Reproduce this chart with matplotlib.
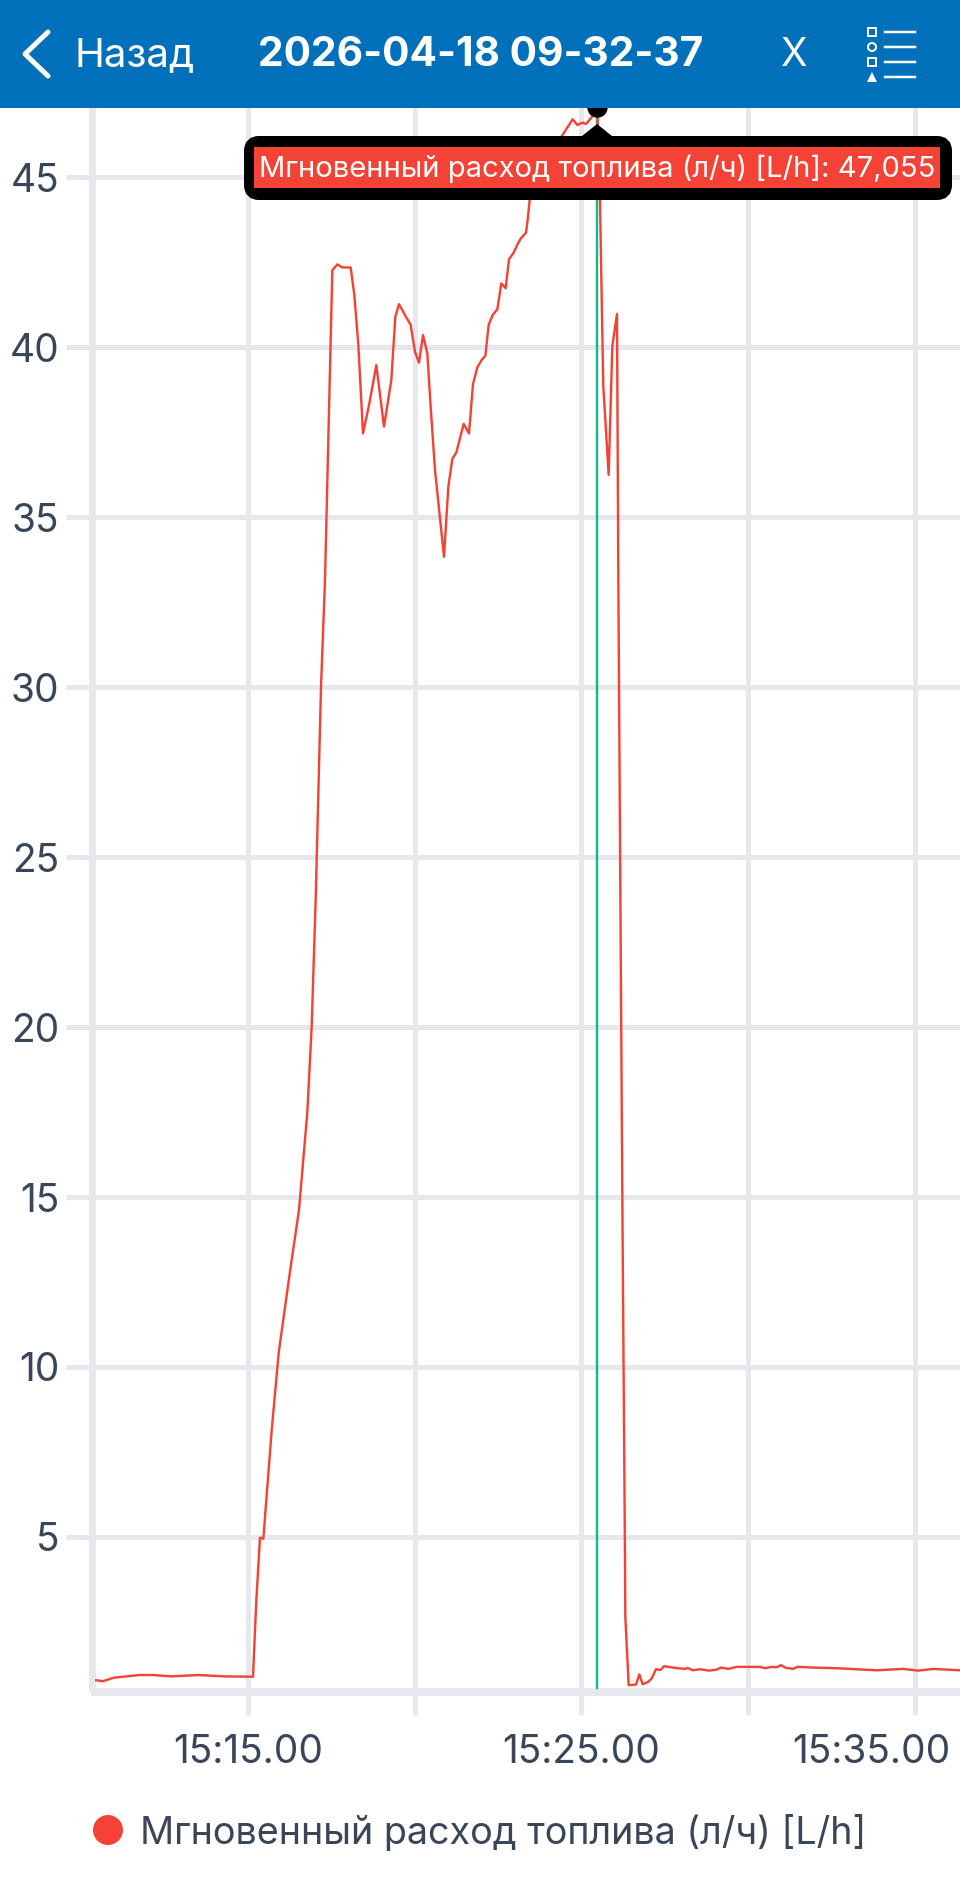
import matplotlib
matplotlib.use('Agg')
import matplotlib.pyplot as plt
from matplotlib.patches import Circle, FancyBboxPatch, Polygon, Rectangle

# minutes after 15:00 and fuel rate in L/h
minutes = [10.41, 10.65, 10.97, 11.73, 12.17, 12.69, 13.50, 14.31, 15.15, 15.25, 15.36, 15.46,
           15.71, 15.92, 16.26, 16.53, 16.78, 16.91, 17.03, 17.19, 17.31, 17.53, 17.68, 17.83,
           18.08, 18.19, 18.31, 18.45, 18.64, 18.85, 19.08, 19.30, 19.42, 19.53, 19.71, 19.88,
           20.01, 20.13, 20.25, 20.38, 20.48, 20.61, 20.88, 21.01, 21.13, 21.25, 21.47, 21.63,
           21.75, 21.88, 22.01, 22.12, 22.22, 22.34, 22.48, 22.60, 22.73, 22.83, 22.96, 23.11,
           23.19, 23.34, 23.39, 23.45, 23.70, 24.06, 24.44, 24.74, 24.88, 25.04, 25.14, 25.34,
           25.48, 25.56, 25.64, 25.66, 25.82, 25.93, 26.07, 26.11, 26.23, 26.31, 26.32, 26.42,
           26.64, 26.74, 26.84, 27.01, 27.11, 27.24, 27.38, 27.48, 27.81, 28.11, 28.19, 28.34,
           28.56, 28.83, 29.06, 29.19, 29.41, 29.66, 30.36, 30.51, 30.71, 30.86, 30.99, 31.14,
           31.36, 31.48, 31.96, 32.66, 33.86, 34.66, 35.11, 35.56, 36.36]
rate = [0.79, 0.76, 0.86, 0.94, 0.94, 0.90, 0.94, 0.90, 0.89, 3.15, 4.98, 4.95,
        8.13, 10.41, 12.81, 14.62, 17.50, 20.01, 23.74, 30.00, 33.15, 42.26, 42.43, 42.34,
        42.34, 41.53, 40.06, 37.46, 38.34, 39.47, 37.66, 39.03, 40.89, 41.26, 40.94, 40.65,
        39.86, 39.54, 40.35, 39.81, 38.24, 36.38, 33.83, 35.89, 36.71, 36.90, 37.74, 37.46,
        38.91, 39.40, 39.62, 39.74, 40.65, 40.94, 41.11, 41.87, 41.73, 42.58, 42.76, 43.07,
        43.20, 43.36, 43.74, 44.32, 45.06, 45.79, 46.24, 46.70, 46.53, 46.60, 46.56, 46.79,
        47.055, 44.32, 39.82, 38.82, 36.24, 40.03, 40.97, 33.15, 14.91, 4.32, 2.65, 0.64,
        0.66, 0.96, 0.67, 0.74, 0.84, 1.11, 1.09, 1.20, 1.15, 1.12, 1.15, 1.08,
        1.11, 1.07, 1.10, 1.16, 1.12, 1.18, 1.18, 1.14, 1.18, 1.17, 1.23, 1.15,
        1.12, 1.18, 1.16, 1.14, 1.08, 1.12, 1.07, 1.12, 1.08]

x_ticks = [15, 20, 25, 30, 35]
x_labels = ['15:15.00', '', '15:25.00', '', '']
last_x_label = '15:35.00'
y_ticks = [5, 10, 15, 20, 25, 30, 35, 40, 45]

cursor_minute = 25.48
cursor_value = 47.055
series_name = 'Мгновенный расход топлива (л/ч) [L/h]'
tooltip_text = series_name + ': 47,055'
title_text = '2026-04-18 09-32-37'

W, H = 960, 1879
BLUE = '#0070BA'
RED = '#F44336'
GREEN = '#12B886'
GRID = '#E6E8ED'
TEXT = '#39465A'
px = 0.72  # one pixel in points at dpi 100

plt.rcParams['font.family'] = ['Inter', 'DejaVu Sans']

fig = plt.figure(figsize=(W / 100, H / 100), dpi=100, facecolor='white')

# chart area, pixel box 95..960 by 108..1692
ax = fig.add_axes([95 / W, 1 - 1692 / H, (960 - 95) / W, (1692 - 108) / H])
ax.set_xlim(10.41, 36.36)
ax.set_ylim(0.441, 47.03)

ax.grid(True, color=GRID, linewidth=5 * px)
ax.set_axisbelow(True)
ax.set_xticks(x_ticks)
ax.set_xticklabels(x_labels)
ax.set_yticks(y_ticks)
ax.tick_params(axis='x', length=23 * px, width=5 * px, color=GRID, labelcolor=TEXT,
               labelsize=28, pad=19 * px)
ax.tick_params(axis='y', length=26 * px, width=5 * px, color=GRID, labelcolor=TEXT,
               labelsize=28, pad=6 * px)

for side in ['top', 'right']:
    ax.spines[side].set_visible(False)
ax.spines['bottom'].set_color(GRID)
ax.spines['bottom'].set_linewidth(8 * px)
ax.spines['left'].set_color(GRID)
ax.spines['left'].set_linewidth(7 * px)
ax.spines['left'].set_position(('outward', 3.5 * px))
ax.spines['left'].set_bounds(0.56, 47.03)

ax.annotate(last_x_label, xy=(35, 0), xycoords=('data', 'axes fraction'),
            xytext=(-43 * px, -(23 + 19) * px), textcoords='offset points',
            ha='center', va='top', fontsize=28, color=TEXT, annotation_clip=False)

ax.axvline(cursor_minute, color=GREEN, linewidth=2.4 * px, ymin=0.0025, zorder=3)
ax.plot(minutes, rate, color=RED, linewidth=2.4 * px, zorder=4)
ax.plot([cursor_minute], [cursor_value], 'o', color='black', markersize=19 * px,
        clip_on=False, zorder=5)

# header, tooltip and legend in screen pixels on top of the chart
top = fig.add_axes([0, 0, 1, 1], zorder=5)
top.set_xlim(0, W)
top.set_ylim(H, 0)
top.axis('off')
top.patch.set_alpha(0)

top.add_patch(Rectangle((0, 0), W, 108, color=BLUE, linewidth=0))
top.plot([48, 25, 48], [32, 54, 76], color='white', linewidth=5 * px,
         solid_capstyle='round', solid_joinstyle='round')
top.text(75, 56, 'Назад', color='white', fontsize=29, va='center', ha='left')
top.text(481, 55, title_text, color='white', fontsize=29.3, fontweight='bold',
         va='center', ha='center')
top.text(794, 55, 'X', color='white', fontsize=28, va='center', ha='center')

for row_y in [32, 47, 62, 77]:
    top.plot([885, 915], [row_y, row_y], color='white', linewidth=2.5 * px)
top.add_patch(Rectangle((868, 28), 8, 8, fill=False, edgecolor='white', linewidth=2 * px))
top.add_patch(Circle((872, 47), 4, fill=False, edgecolor='white', linewidth=2 * px))
top.add_patch(Rectangle((868, 58), 8, 8, fill=False, edgecolor='white', linewidth=2 * px))
top.add_patch(Polygon([(867, 82), (877, 82), (872, 72)], color='white', linewidth=0))

top.add_patch(FancyBboxPatch((251, 143), 694, 50, boxstyle='round,pad=0,rounding_size=8',
                             facecolor='black', edgecolor='black', linewidth=14 * px))
top.add_patch(Polygon([(582, 136), (612, 136), (597, 124)], color='black', linewidth=0))
top.add_patch(Rectangle((254, 147), 686, 41, color=RED, linewidth=0))
top.text(597, 169, tooltip_text, color='white', fontsize=21, va='center', ha='center')

top.add_patch(Circle((108, 1830), 15, color=RED, linewidth=0))
top.text(140, 1834, series_name, color=TEXT, fontsize=27.2, va='center', ha='left')

fig.savefig('out.png', dpi=100)
